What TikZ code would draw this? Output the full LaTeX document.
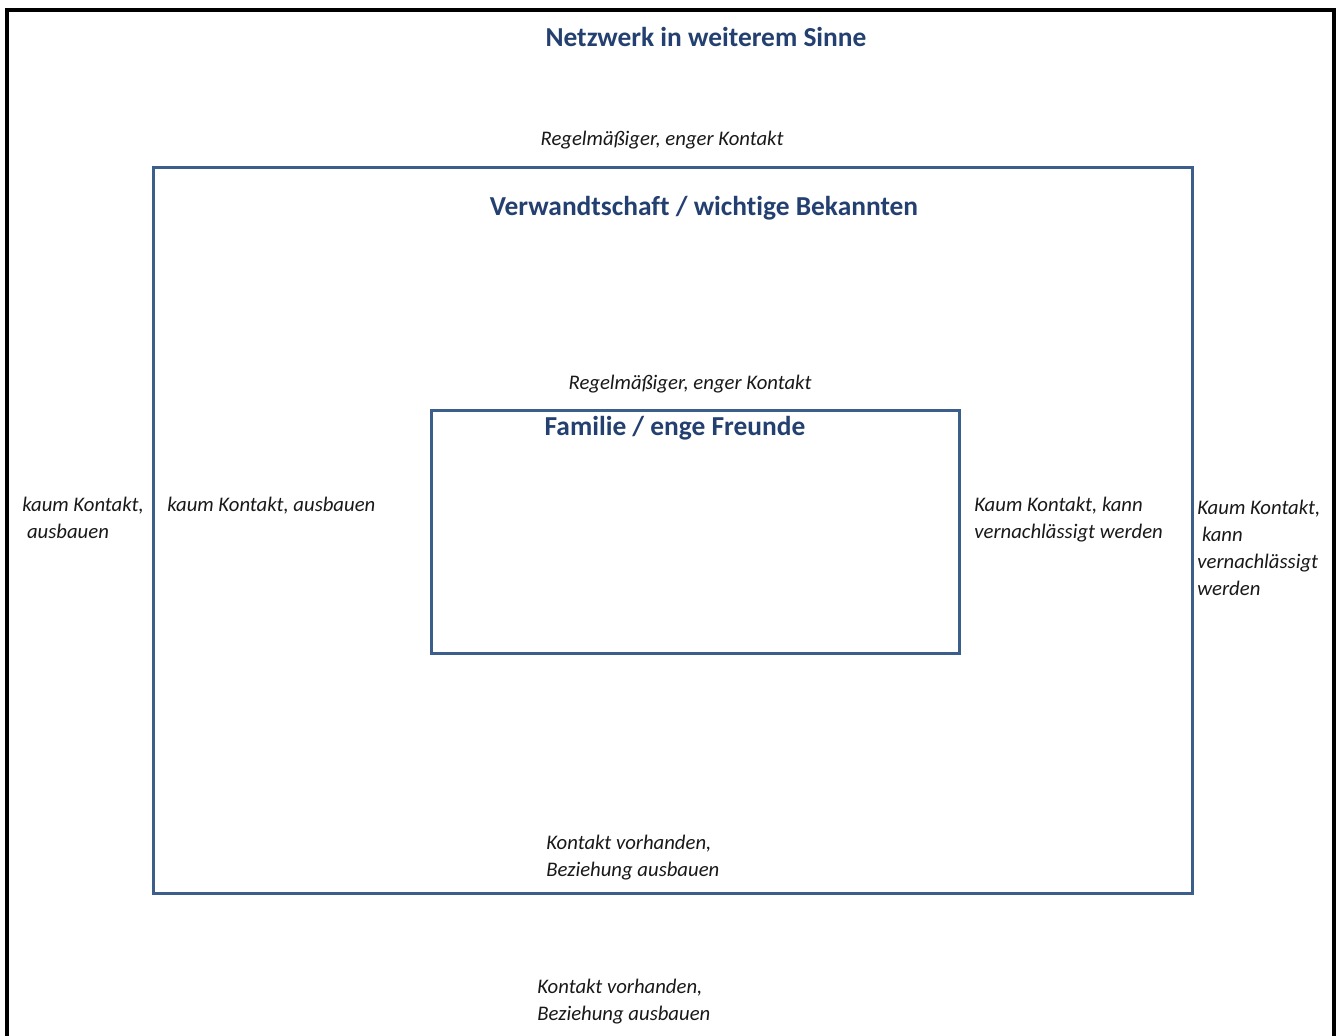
\documentclass[tikz,border=0pt]{standalone}
\usepackage{fontspec}
\setmainfont{Carlito}[Ligatures=NoCommon]
\definecolor{titleblue}{RGB}{36,64,112}
\definecolor{boxblue}{RGB}{60,94,138}
\definecolor{txt}{RGB}{25,25,25}
\begin{document}
\begin{tikzpicture}[x=0.02cm,y=-0.02cm,
  title/.style={font=\fontsize{15.6}{19}\selectfont\bfseries, text=titleblue, inner sep=0},
  note/.style={font=\fontsize{11.8}{15.3}\selectfont\itshape, text=txt, inner sep=0, align=left},
  frame/.style={draw=boxblue, line width=1.8pt},
  outer/.style={draw=black, line width=2.4pt}]
\useasboundingbox (0,0) rectangle (1338,1035);
\fill[white] (0,0) rectangle (1338,1035);
% outer frame (bottom edge cut off by the picture)
\coordinate (o1) at (7,1040);
\coordinate (o2) at (7,10);
\coordinate (o3) at (1334,10);
\coordinate (o4) at (1334,1040);
\draw[outer] (o1) -- (o2) -- (o3) -- (o4);
% boxes
\node[frame, minimum width=1039*0.02cm, minimum height=726*0.02cm, inner sep=0, anchor=north west] (mid) at (152,166) {};
\node[frame, minimum width=528*0.02cm, minimum height=243*0.02cm, inner sep=0, anchor=north west] (inner) at (430,409) {};
% titles
\node[title] (t1) at (706,37) {Netzwerk in weiterem Sinne};
\node[title] (t2) at (704,208) {Verwandtschaft / wichtige Bekannten};
\node[title] (t3) at (675,428) {Familie / enge Freunde};
% notes
\node[note] (n1) at (662,140) {Regelmäßiger, enger Kontakt};
\node[note] (n2) at (690,384) {Regelmäßiger, enger Kontakt};
\node[note, anchor=north west] (n3) at (22,497) {kaum Kontakt,\\ \ ausbauen};
\node[note, anchor=north west] (n4) at (167,497) {kaum Kontakt, ausbauen};
\node[note, anchor=north west] (n5) at (974,497) {Kaum Kontakt, kann\\vernachlässigt werden};
\node[note, anchor=north west] (n6) at (1197,500) {Kaum Kontakt,\\ \ kann\\vernachlässigt\\werden};
\node[note, anchor=north west] (n7) at (546,835) {Kontakt vorhanden,\\Beziehung ausbauen};
\node[note, anchor=north west] (n8) at (537,979) {Kontakt vorhanden,\\Beziehung ausbauen};
\end{tikzpicture}
\end{document}
